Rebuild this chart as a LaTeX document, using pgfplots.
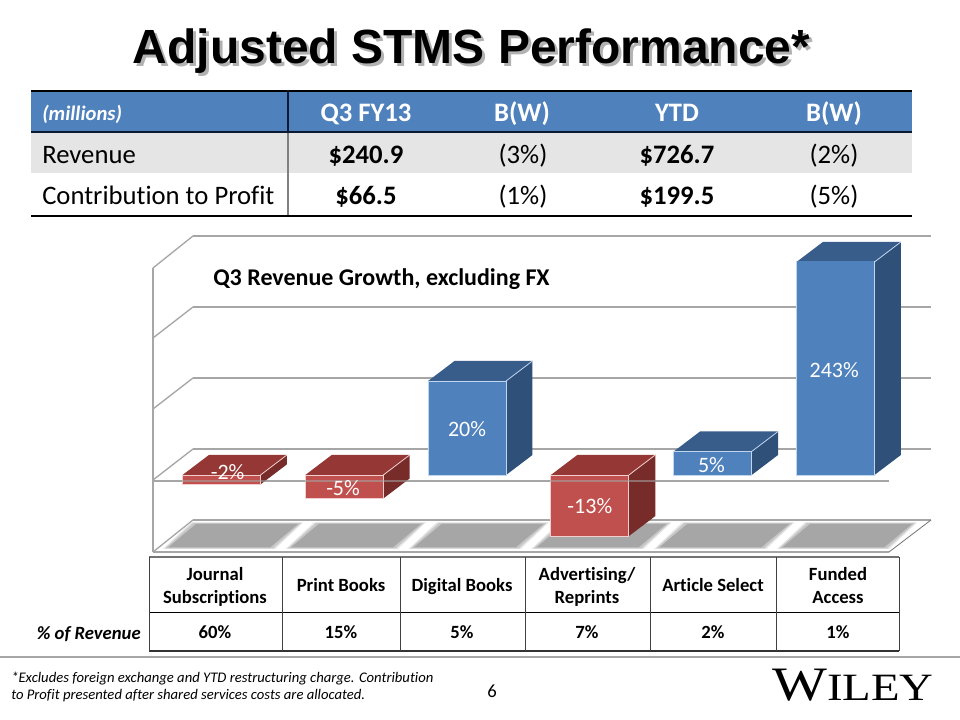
\documentclass[border=0pt]{standalone}
\usepackage{fontspec}
\setmainfont[RawFeature={-liga;-clig}]{Carlito}
\newfontfamily\arialf{Liberation Sans}
\newfontfamily\seriff[FakeStretch=1.21]{Liberation Serif}
\usepackage{pgfplots}
\pgfplotsset{compat=1.18}
\definecolor{hdr}{HTML}{4F81BD}
\definecolor{bfront}{HTML}{4F81BD}
\definecolor{btop}{HTML}{385D8A}
\definecolor{bside}{HTML}{2F5079}
\definecolor{bline}{HTML}{BFD6EE}
\definecolor{rfront}{HTML}{C0504D}
\definecolor{rtop}{HTML}{953735}
\definecolor{rside}{HTML}{772C2A}
\definecolor{rline}{HTML}{F2CFCE}
\definecolor{gridc}{HTML}{A6A6A6}
\definecolor{navy}{HTML}{0A1A33}
\newcommand{\fs}[1]{\fontsize{#1}{#1}\selectfont}
\pgfplotsset{chartarea/.style={hide axis, scale only axis, width=552pt, height=217.5pt,
  xmin=-0.5578, xmax=5.436, ymin=-16.38, ymax=45.32, at={(114.75pt,126pt)}, anchor=south west}}
\begin{document}
\begin{tikzpicture}
\useasboundingbox (0,0) rectangle (720pt,540pt);
\fill[white] (0,0) rectangle (720pt,540pt);
\begin{scope}[x=0.75pt,y=-0.75pt,yshift=540pt]
  % Title
  \node[anchor=base,inner sep=0,text=black,opacity=0.3] at (474.5,67) {\arialf\bfseries\fs{36}Adjusted STMS Performance*};
  \node[anchor=base,inner sep=0] at (471.5,64) {\arialf\bfseries\fs{36}Adjusted STMS Performance*};
  % Top table
  \fill[hdr] (31,90) rectangle (912,133);
  \fill[black!10] (31,133) rectangle (912,173);
  \draw[black,line width=1.5pt] (31,91) -- (912,91);
  \draw[navy,line width=1.5pt] (31,132.5) -- (912,132.5);
  \draw[black,line width=1.5pt] (31,216) -- (912,216);
  \draw[navy,line width=0.8pt] (288,90) -- (288,132);
  \draw[black!50,line width=0.9pt] (288,133) -- (288,215);
  \node[anchor=base west,inner sep=0,text=white] at (42,120.5) {\fs{15.5}\bfseries\itshape (millions)};
  \foreach \x/\t in {366/Q3 FY13,522/B(W),677/YTD,834/B(W)}
    \node[anchor=base,inner sep=0,text=white] at (\x,122) {\fs{20}\bfseries \t};
  \node[anchor=base west,inner sep=0] at (42,164) {\fs{20}Revenue};
  \node[anchor=base west,inner sep=0] at (42,205) {\fs{20}Contribution to Profit};
  \node[anchor=base,inner sep=0] at (366,164) {\fs{20}\bfseries \$240.9};
  \node[anchor=base,inner sep=0] at (523,164) {\fs{20}(3\%)};
  \node[anchor=base,inner sep=0] at (677,164) {\fs{20}\bfseries \$726.7};
  \node[anchor=base,inner sep=0] at (834,164) {\fs{20}(2\%)};
  \node[anchor=base,inner sep=0] at (366,205) {\fs{20}\bfseries \$66.5};
  \node[anchor=base,inner sep=0] at (523,205) {\fs{20}(1\%)};
  \node[anchor=base,inner sep=0] at (677,205) {\fs{20}\bfseries \$199.5};
  \node[anchor=base,inner sep=0] at (834,205) {\fs{20}(5\%)};
  % 3D frame
  \begin{scope}[gridc,line width=1pt]
    \draw (193,236) -- (931,236);
    \draw (193,307) -- (931,307);
    \draw (193,378) -- (931,378);
    \draw (193,449) -- (931,449);
    \draw (193,520) -- (931,520);
    \draw (153,268) -- (153,552);
    \draw (153,268) -- (193,236);
    \draw (153,338) -- (193,307);
    \draw (153,409) -- (193,378);
    \draw (153,480) -- (193,449);
    \draw (153,552) -- (193,520);
    \draw (153,481) -- (889,481);
    \draw (153,552) -- (889,552);
    \draw[line width=0.6pt,black!55] (889,552) -- (931,520);
  \end{scope}
  % Floor shadows
  \foreach \i in {0,...,5}{
    \fill[black!10] ({163+\i*122.8},549) -- ({275+\i*122.8},549) -- ({303+\i*122.8},522.5) -- ({191+\i*122.8},522.5) -- cycle;
    \fill[black!22] ({165+\i*122.8},548.5) -- ({273+\i*122.8},548.5) -- ({301+\i*122.8},523) -- ({193+\i*122.8},523) -- cycle;
    \fill[gridc] ({168+\i*122.8},547.5) -- ({270+\i*122.8},547.5) -- ({298+\i*122.8},524) -- ({196+\i*122.8},524) -- cycle;
  }
  % Chart caption
  \node[anchor=base west,inner sep=0] at (213,285.5) {\fs{18}\bfseries Q3 Revenue Growth, excluding FX};
  % Lower table
  \draw[black!55,line width=1.4pt] (149,557) -- (899,557);
  \draw[black,line width=0.7pt] (149,612) -- (899,612);
  \draw[black!80,line width=0.8pt] (149,651) -- (899,651);
  \foreach \x in {149,282,400,525,650,776,899}
    \draw[black!75,line width=0.7pt] (\x,557) -- (\x,651);
  \node[anchor=base,inner sep=0] at (215,581) {\fs{14}\bfseries Journal};
  \node[anchor=base,inner sep=0] at (215,604) {\fs{14}\bfseries Subscriptions};
  \node[anchor=base,inner sep=0] at (341,592) {\fs{14}\bfseries Print Books};
  \node[anchor=base,inner sep=0] at (462,592) {\fs{14}\bfseries Digital Books};
  \node[anchor=base,inner sep=0] at (587,581) {\fs{14}\bfseries Advertising/};
  \node[anchor=base,inner sep=0] at (587,604) {\fs{14}\bfseries Reprints};
  \node[anchor=base,inner sep=0] at (713,592) {\fs{14}\bfseries Article Select};
  \node[anchor=base,inner sep=0] at (838,581) {\fs{14}\bfseries Funded};
  \node[anchor=base,inner sep=0] at (838,604) {\fs{14}\bfseries Access};
  \foreach \x/\t in {215/60\%,341/15\%,462/5\%,587/7\%,713/2\%,838/1\%}
    \node[anchor=base,inner sep=0] at (\x,639) {\fs{14}\bfseries \t};
  \node[anchor=base east,inner sep=0] at (141,640) {\fs{14}\bfseries\itshape \% of Revenue};
  % Footer
  \draw[gridc,line width=0.8pt] (0,657) -- (960,657);
  \node[anchor=base west,inner sep=0] at (11,682.5) {\fs{11}\itshape *Excludes foreign exchange and YTD restructuring charge. Contribution};
  \node[anchor=base west,inner sep=0] at (11,699.5) {\fs{11}\itshape to Profit presented after shared services costs are allocated.};
  \node[anchor=base,inner sep=0] at (492,698) {\fs{14}6};
  \node[anchor=base west,inner sep=0] at (772,701) {\seriff\fs{36}W\fs{29}ILEY};
\end{scope}
% Side and top faces of the bars, same scale as the front faces (percent)
\begin{axis}[chartarea, clip=false]
  % bar 0: -2
  \addplot[fill=rside,draw=none] coordinates {(0.3175,-2)(0.5325,2.26)(0.5325,4.26)(0.3175,0)};
  \addplot[fill=rtop,draw=none] coordinates {(-0.3175,0)(0.3175,0)(0.5325,4.26)(-0.1025,4.26)};
  \addplot[draw=rline,line width=0.6pt] coordinates {(0.3175,0)(0.5325,4.26)};
  % bar 1: -5
  \addplot[fill=rside,draw=none] coordinates {(1.3175,-5)(1.5325,-0.74)(1.5325,4.26)(1.3175,0)};
  \addplot[fill=rtop,draw=none] coordinates {(0.6825,0)(1.3175,0)(1.5325,4.26)(0.8975,4.26)};
  \addplot[draw=rline,line width=0.6pt] coordinates {(1.3175,0)(1.5325,4.26)};
  % bar 2: 20
  \addplot[fill=bside,draw=none] coordinates {(2.3175,0)(2.5325,4.26)(2.5325,24.26)(2.3175,20)};
  \addplot[fill=btop,draw=none] coordinates {(1.6825,20)(2.3175,20)(2.5325,24.26)(1.8975,24.26)};
  \addplot[draw=bline,line width=0.6pt] coordinates {(2.3175,20)(2.5325,24.26)};
  % bar 3: -13
  \addplot[fill=rside,draw=none] coordinates {(3.3175,-13)(3.5325,-8.74)(3.5325,4.26)(3.3175,0)};
  \addplot[fill=rtop,draw=none] coordinates {(2.6825,0)(3.3175,0)(3.5325,4.26)(2.8975,4.26)};
  \addplot[draw=rline,line width=0.6pt] coordinates {(3.3175,0)(3.5325,4.26)};
  % bar 4: 5
  \addplot[fill=bside,draw=none] coordinates {(4.3175,0)(4.5325,4.26)(4.5325,9.26)(4.3175,5)};
  \addplot[fill=btop,draw=none] coordinates {(3.6825,5)(4.3175,5)(4.5325,9.26)(3.8975,9.26)};
  \addplot[draw=bline,line width=0.6pt] coordinates {(4.3175,5)(4.5325,9.26)};
  % bar 5: 243, drawn cut off at the top of the scale as in the picture
  \addplot[fill=bside,draw=none] coordinates {(5.3175,0)(5.5325,4.26)(5.5325,49.58)(5.3175,45.32)};
  \addplot[fill=btop,draw=none] coordinates {(4.6825,45.32)(5.3175,45.32)(5.5325,49.58)(4.8975,49.58)};
  \addplot[draw=bline,line width=0.6pt] coordinates {(5.3175,45.32)(5.5325,49.58)};
\end{axis}
% Front faces with the true values
\begin{axis}[chartarea, clip=true, ybar, bar width=0.635, bar shift=0pt]
  \addplot[fill=bfront,draw=bline,line width=0.7pt] coordinates {(2,20)(4,5)(5,243)};
  \addplot[fill=rfront,draw=rline,line width=0.7pt] coordinates {(0,-2)(1,-5)(3,-13)};
\end{axis}
% Faint front zero line and data labels
\begin{axis}[chartarea, clip=false]
  \addplot[draw=gridc,line width=0.8pt,opacity=0.55] coordinates {(-0.5578,-1.28)(3.6,-1.28)};
  \node[anchor=base,inner sep=0,text=white] at (axis cs:0.05,-1.05) {\fs{16.5}-2\%};
  \node[anchor=base,inner sep=0,text=white] at (axis cs:0.99,-4.46) {\fs{16.5}-5\%};
  \node[anchor=base,inner sep=0,text=white] at (axis cs:2,8.1) {\fs{16.5}20\%};
  \node[anchor=base,inner sep=0,text=white] at (axis cs:3,-8.29) {\fs{16.5}-13\%};
  \node[anchor=base,inner sep=0,text=white] at (axis cs:3.99,0.44) {\fs{16.5}5\%};
  \node[anchor=base,inner sep=0,text=white] at (axis cs:4.99,20.85) {\fs{16.5}243\%};
\end{axis}
\end{tikzpicture}
\end{document}
